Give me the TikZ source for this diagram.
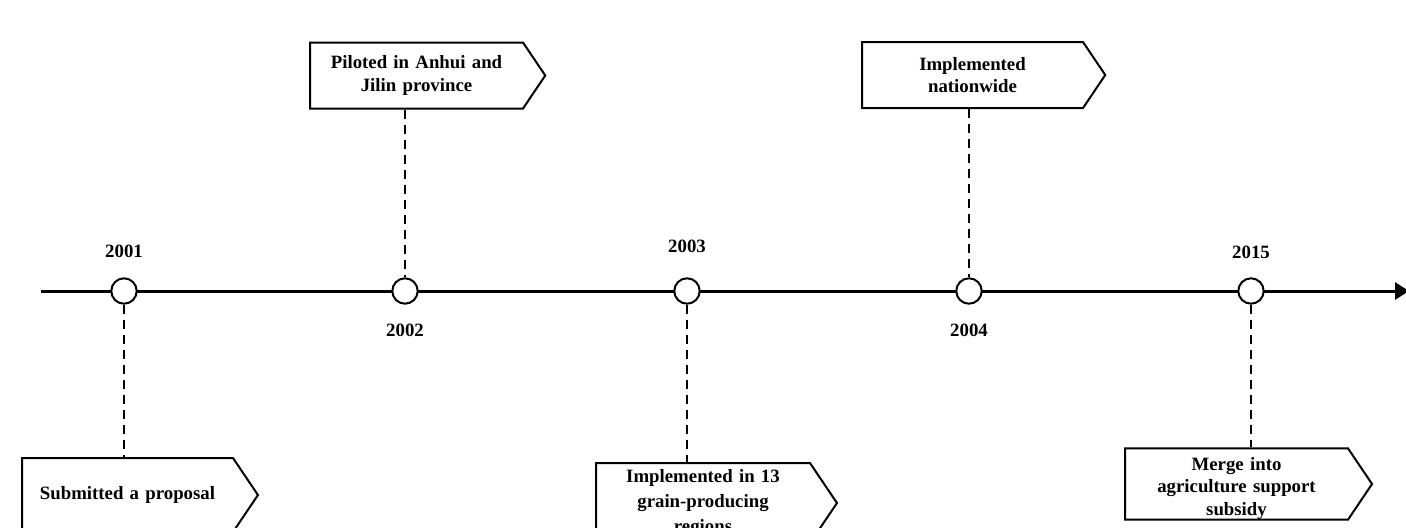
\documentclass[tikz,border=0pt]{standalone}
\usepackage{fontspec}
\setmainfont{Liberation Serif}
\usetikzlibrary{positioning, shapes.symbols, arrows.meta}

\tikzset{
  event/.style={circle, draw, line width=1pt, fill=white, minimum size=12.7pt, inner sep=0pt},
  yearlabel/.style={font=\fontsize{9.4}{11.3}\selectfont\bfseries, inner sep=0pt},
  tagbox/.style={signal, signal to=east, signal pointer angle=112, draw, line width=1pt,
    fill=white, anchor=west, inner xsep=0pt, inner ysep=0pt, align=center,
    font=\fontsize{9.4}{11.3}\selectfont\bfseries},
  stem/.style={line width=1pt, dash pattern=on 4.5pt off 3pt}
}

\begin{document}
\begin{tikzpicture}[x=0.5pt, y=-0.5pt]
  \useasboundingbox (0,0) rectangle (1406,527);
  % the time axis
  \coordinate (start) at (41,291);
  \coordinate (end) at (1409,291);
  \draw[line width=1.5pt, -{Triangle[length=7pt,width=8.5pt]}] (start) -- (end);

  % points on the axis
  \node[event] (e2001) at (124,291) {};
  \node[event] (e2002) at (405,291) {};
  \node[event] (e2003) at (687,291) {};
  \node[event] (e2004) at (969,291) {};
  \node[event] (e2015) at (1251,291) {};

  % years
  \node[yearlabel, above=9.5pt of e2001] (y2001) {2001};
  \node[yearlabel, below=9.5pt of e2002] (y2002) {2002};
  \node[yearlabel, above=12pt of e2003] (y2003) {2003};
  \node[yearlabel, below=9.5pt of e2004] (y2004) {2004};
  \node[yearlabel, above=9pt of e2015] (y2015) {2015};

  % the boxes
  \node[tagbox, text width=105.5pt, minimum height=37pt] (proposal) at (21,495)
    {Submitted a proposal};
  \node[tagbox, text width=106.5pt, minimum height=33pt] (pilot) at (309,75.5)
    {Piloted in Anhui and\\Jilin province};
  \node[tagbox, text width=107pt, minimum height=40pt,
    font=\fontsize{9.4}{12.5}\selectfont\bfseries] (regions) at (595,503)
    {Implemented in 13\\grain-producing\\regions};
  \node[tagbox, text width=110.5pt, minimum height=33pt] (nation) at (861,75)
    {Implemented\\nationwide};
  \node[tagbox, text width=111.5pt, minimum height=33pt] (merge) at (1124,484)
    {\rule{0pt}{11pt}Merge into\\agriculture support\\subsidy};

  % dashed stems
  \draw[stem] (e2001.south) -- (e2001.south |- proposal.north);
  \draw[stem] (pilot.south -| e2002) -- (e2002.north);
  \draw[stem] (e2003.south) -- (e2003.south |- regions.north);
  \draw[stem] (nation.south -| e2004) -- (e2004.north);
  \draw[stem] (e2015.south) -- (e2015.south |- merge.north);
\end{tikzpicture}
\end{document}
